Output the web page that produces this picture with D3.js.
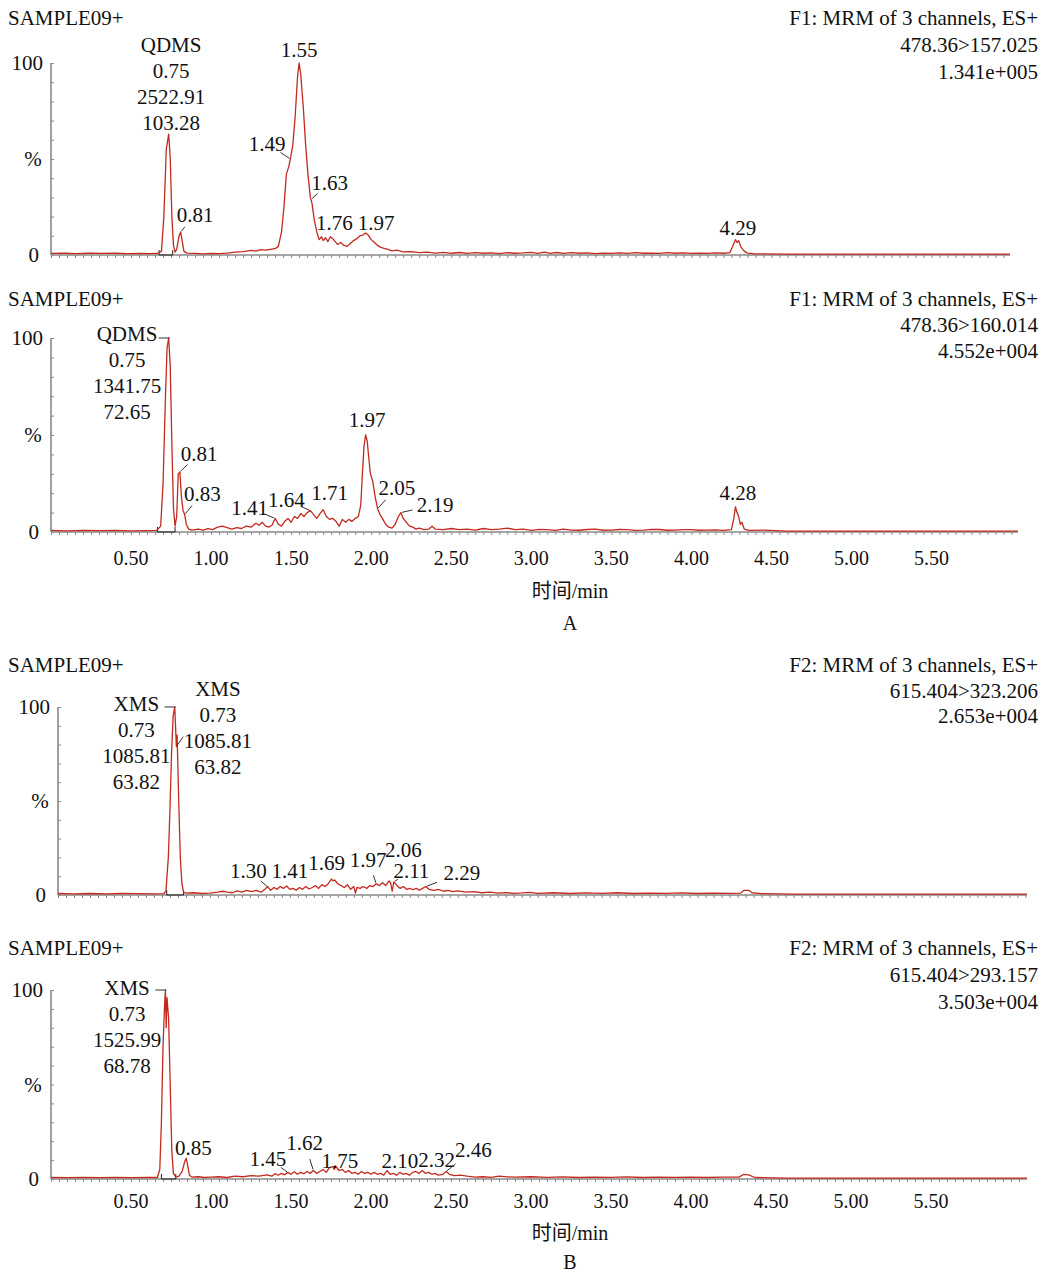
<!DOCTYPE html>
<html>
<head>
<meta charset="utf-8">
<script src="https://cdn.jsdelivr.net/npm/d3@7/dist/d3.min.js"></script>
<style>
  html, body { margin: 0; padding: 0; background: #fff; }
  svg text { font-family: "Liberation Serif", "Times New Roman", "Noto Sans CJK SC", serif; fill: #111; }
</style>
</head>
<body>
<div id="chart"></div>
<script>
// ---- data (time in min, intensity in %) ----
const traceA1 = [[0,0.8],[0.08,0.9],[0.16,0.7],[0.24,0.9],[0.32,0.8],[0.4,0.9],[0.48,0.7],[0.56,0.8],[0.62,0.7],[0.665,0.8],
  [0.69,2],[0.705,20],[0.72,55],[0.735,63],[0.745,50],[0.755,20],[0.765,5],[0.775,1.5],[0.785,3],[0.8,10],[0.81,12],[0.82,7],[0.83,2],
  [0.85,1],[0.9,0.8],[0.95,0.6],[1.0,0.8],[1.05,0.7],[1.1,1.0],[1.15,1.5],[1.2,1.8],[1.25,2.4],[1.28,2.0],[1.31,2.8],[1.34,2.5],[1.37,2.9],
  [1.4,3.3],[1.42,4.5],[1.44,12],[1.455,25],[1.47,42],[1.485,46],[1.495,50],[1.51,57],[1.525,72],[1.54,93],[1.55,100],[1.56,94],
  [1.575,78],[1.59,58],[1.605,42],[1.62,30],[1.63,27],[1.645,18],[1.66,12],[1.675,8],[1.69,9.5],[1.7,7.5],[1.715,9],[1.73,7],
  [1.745,9.5],[1.76,8.5],[1.775,7],[1.79,5.5],[1.81,6.5],[1.83,5],[1.85,4.5],[1.87,6],[1.89,7.5],[1.91,8.5],[1.93,10],[1.95,10.5],
  [1.965,11.5],[1.98,10.5],[2.0,8],[2.02,6.5],[2.04,5],[2.06,4],[2.08,3.5],[2.1,3],[2.13,2.2],[2.16,2.5],[2.2,1.6],[2.25,1.8],[2.3,1.2],
  [2.35,1.5],[2.4,1.0],[2.45,1.4],[2.5,0.9],[2.55,1.3],[2.6,0.8],[2.65,1.2],[2.7,0.9],[2.75,1.1],[2.8,0.7],[2.85,1.2],[2.9,0.9],
  [2.95,1.1],[3.0,1.4],[3.04,0.8],[3.08,1.5],[3.12,0.9],[3.16,1.3],[3.2,0.8],[3.25,1.2],[3.3,0.9],[3.35,1.1],[3.4,0.7],[3.45,1.0],
  [3.5,0.8],[3.55,1.1],[3.6,0.8],[3.65,1.2],[3.7,0.9],[3.75,1.0],[3.8,0.8],[3.85,1.2],[3.9,0.9],[3.95,1.1],[4.0,0.8],[4.05,1.0],
  [4.1,0.8],[4.15,1.1],[4.2,0.9],[4.24,1.2],[4.26,5],[4.275,8],[4.285,6.5],[4.295,7.5],[4.31,4],[4.33,2],[4.35,1],[4.4,0.6],
  [4.6,0.5],[5.0,0.5],[5.5,0.5],[5.99,0.5]];

const traceA2 = [[0,0.8],[0.1,0.6],[0.2,0.8],[0.3,0.7],[0.4,0.8],[0.5,0.6],[0.6,0.7],[0.66,0.8],[0.685,3],[0.7,25],[0.715,70],
  [0.725,95],[0.735,100],[0.745,85],[0.755,45],[0.765,12],[0.775,3],[0.785,8],[0.795,30],[0.805,31],[0.815,18],[0.825,11],[0.835,9],
  [0.845,4],[0.86,1.5],[0.88,1],[0.92,1.5],[0.95,1],[0.98,1.8],[1.01,1.2],[1.04,2.5],[1.07,3],[1.1,2.2],[1.13,1.5],[1.16,2.2],[1.19,1.8],
  [1.22,3],[1.25,2.5],[1.28,4.5],[1.3,3.5],[1.32,5],[1.34,3],[1.36,2.5],[1.38,3.5],[1.4,7],[1.42,4],[1.44,3],[1.46,5.5],[1.48,7],
  [1.5,5],[1.52,8],[1.54,7],[1.56,9.5],[1.58,8],[1.6,10],[1.62,11],[1.64,9],[1.66,7],[1.68,9.5],[1.7,11.5],[1.72,8],[1.74,6.5],
  [1.76,7],[1.78,5.5],[1.8,3],[1.82,6.5],[1.84,5],[1.86,6.5],[1.88,5.5],[1.9,7],[1.92,8],[1.935,14],[1.945,30],[1.955,44],[1.965,50],
  [1.975,47],[1.985,38],[1.995,30],[2.01,26],[2.025,18],[2.04,12],[2.055,9],[2.07,7],[2.09,4],[2.11,2.5],[2.13,2],[2.15,4],[2.17,8],
  [2.185,10],[2.2,7],[2.22,5],[2.24,3],[2.26,2.5],[2.28,1.5],[2.3,2],[2.33,1.2],[2.36,1.5],[2.38,3],[2.4,1.5],[2.45,1.2],[2.5,1.8],
  [2.55,1.2],[2.6,1.5],[2.65,1],[2.7,1.8],[2.75,1.2],[2.8,1.5],[2.85,2],[2.9,1.2],[2.95,1.5],[3.0,0.8],[3.05,1.4],[3.1,1.2],[3.15,0.8],
  [3.2,1.5],[3.25,1.0],[3.3,0.9],[3.35,1.3],[3.4,1.5],[3.45,0.9],[3.5,1.0],[3.55,1.3],[3.6,1.2],[3.65,0.8],[3.7,1.0],[3.75,1.4],
  [3.8,1.3],[3.85,0.9],[3.9,1.0],[3.95,1.2],[4.0,1.2],[4.05,0.9],[4.1,1.0],[4.15,1.1],[4.2,0.8],[4.25,1.2],[4.265,7],[4.275,13],
  [4.285,10],[4.295,8],[4.305,4],[4.315,5],[4.33,1.5],[4.36,0.8],[4.45,1.0],[4.6,0.5],[5.0,0.5],[5.5,0.5],[6.04,0.5]];

const traceB1 = [[0,0.8],[0.1,0.6],[0.2,0.8],[0.3,0.6],[0.4,0.8],[0.5,0.7],[0.6,0.6],[0.66,0.7],[0.675,2],[0.69,20],[0.7,45],
  [0.71,75],[0.72,95],[0.73,100],[0.735,90],[0.74,79],[0.745,85],[0.755,50],[0.765,20],[0.775,6],[0.785,1.5],[0.8,1],[0.85,1.2],
  [0.9,0.8],[0.95,1],[1.0,1.5],[1.03,2],[1.06,1.5],[1.09,1.2],[1.12,2.2],[1.15,1.5],[1.18,2.5],[1.21,1.8],[1.24,2.5],[1.27,1.5],
  [1.3,3.5],[1.31,4.5],[1.33,2.5],[1.35,4],[1.37,3],[1.39,4.5],[1.41,3.5],[1.43,4.8],[1.45,3],[1.47,3.5],[1.49,2.5],[1.51,4],[1.53,3],
  [1.55,4.5],[1.57,3.2],[1.59,4],[1.61,5],[1.63,3.5],[1.65,5.5],[1.67,4.5],[1.69,6],[1.71,8.5],[1.72,7.5],[1.73,8],[1.75,6],[1.77,5],
  [1.79,4],[1.81,5.5],[1.83,3],[1.85,4.5],[1.86,1],[1.87,4],[1.89,3.5],[1.91,4.5],[1.93,3.5],[1.95,5],[1.97,4.5],[1.99,6],[2.01,5],
  [2.03,6.5],[2.05,5],[2.07,7.5],[2.08,6.5],[2.09,2],[2.1,7],[2.12,5],[2.14,3.5],[2.16,4.5],[2.18,3],[2.2,3.5],[2.22,2.8],[2.24,3.5],
  [2.26,2.5],[2.28,3.5],[2.3,4.5],[2.32,3],[2.35,2.5],[2.38,3],[2.41,2],[2.44,2.5],[2.47,1.8],[2.5,2.2],[2.55,1.5],[2.6,1.8],
  [2.65,1.2],[2.7,1.5],[2.75,1.0],[2.8,1.3],[2.85,0.9],[2.9,1.1],[2.95,1.4],[3.0,0.9],[3.1,1.2],[3.2,0.8],[3.3,1.1],[3.4,0.9],
  [3.5,1.2],[3.6,0.8],[3.7,1.0],[3.8,0.9],[3.9,1.1],[4.0,0.8],[4.1,1.0],[4.2,0.9],[4.27,1.0],[4.29,2.5],[4.32,2.5],[4.34,1.2],
  [4.4,0.7],[4.6,0.5],[5.0,0.5],[5.5,0.5],[6.06,0.5]];

const traceB2 = [[0,0.8],[0.1,0.7],[0.2,0.9],[0.3,0.7],[0.4,0.8],[0.5,0.7],[0.6,0.8],[0.665,0.8],[0.68,5],[0.69,30],[0.7,70],
  [0.71,92],[0.715,100],[0.72,80],[0.725,96],[0.735,85],[0.745,50],[0.755,15],[0.765,3],[0.78,1],[0.8,1.5],[0.82,4],[0.835,9],
  [0.845,11],[0.855,7],[0.865,2],[0.88,1],[0.92,1.2],[0.96,0.8],[1.0,1],[1.05,1.2],[1.1,0.8],[1.15,1.5],[1.2,1.2],[1.25,1.8],[1.3,1.5],
  [1.35,2.2],[1.38,1.5],[1.4,2.8],[1.42,2],[1.44,3],[1.46,2.2],[1.48,3.5],[1.5,2.5],[1.52,3.8],[1.54,2.5],[1.56,3.5],[1.58,2.8],
  [1.6,4],[1.62,3],[1.64,4.5],[1.66,3],[1.68,4],[1.7,5],[1.72,3.5],[1.74,6],[1.76,6.5],[1.77,5],[1.78,6.8],[1.8,4.5],[1.82,5],
  [1.84,3.5],[1.86,4.5],[1.88,3],[1.9,3.5],[1.92,2.5],[1.94,4],[1.96,3],[1.98,3.5],[2.0,2.5],[2.02,3.5],[2.04,2.5],[2.06,3],[2.08,2],
  [2.1,4.5],[2.12,2.5],[2.14,3],[2.16,2],[2.18,3.5],[2.2,2.5],[2.22,3],[2.24,2],[2.26,3.5],[2.28,4],[2.3,3],[2.32,4.5],[2.34,3],
  [2.36,3.5],[2.38,2.5],[2.4,3],[2.42,2],[2.45,2.5],[2.47,4],[2.49,2.5],[2.52,1.8],[2.56,2],[2.6,1.5],[2.65,1.0],[2.7,1.2],[2.75,0.9],
  [2.8,1.5],[2.85,1.1],[2.9,1.0],[3.0,1.2],[3.1,0.9],[3.2,1.1],[3.3,0.8],[3.4,1.0],[3.5,0.9],[3.6,1.1],[3.7,0.8],[3.8,1.0],[3.9,0.9],
  [4.0,1.0],[4.1,0.8],[4.2,1.0],[4.3,1.0],[4.33,2.5],[4.36,2.2],[4.4,0.8],[4.6,0.5],[5.0,0.5],[5.5,0.5],[6.1,0.5]];

// peak annotations: lines of text, label centre (lt, lv), peak apex (pt, pv), leader kind
const peaksA1 = [
  { lines: ["QDMS", "0.75", "2522.91", "103.28"], lt: 0.75, lv: 109.5, pt: 0.735, pv: 63, leader: "none" },
  { lines: ["0.81"], lt: 0.90, lv: 21, pt: 0.81, pv: 12, leader: "diag" },
  { lines: ["1.49"], lt: 1.35, lv: 58, pt: 1.495, pv: 50, leader: "diag" },
  { lines: ["1.55"], lt: 1.55, lv: 107, pt: 1.55, pv: 100, leader: "none" },
  { lines: ["1.63"], lt: 1.74, lv: 37.5, pt: 1.625, pv: 29, leader: "diag" },
  { lines: ["1.76"], lt: 1.77, lv: 17, pt: 1.76, pv: 8.5, leader: "none" },
  { lines: ["1.97"], lt: 2.03, lv: 17, pt: 1.965, pv: 11.5, leader: "none" },
  { lines: ["4.29"], lt: 4.29, lv: 14.5, pt: 4.275, pv: 8, leader: "none" }
];
const peaksA2 = [
  { lines: ["QDMS", "0.75", "1341.75", "72.65"], lt: 0.475, lv: 102.5, pt: 0.735, pv: 100, leader: "h" },
  { lines: ["0.81"], lt: 0.925, lv: 40.5, pt: 0.805, pv: 31, leader: "diag" },
  { lines: ["0.83"], lt: 0.945, lv: 20, pt: 0.835, pv: 9, leader: "diag" },
  { lines: ["1.41"], lt: 1.24, lv: 12.5, pt: 1.40, pv: 7, leader: "diag" },
  { lines: ["1.64"], lt: 1.47, lv: 16.5, pt: 1.62, pv: 11, leader: "diag" },
  { lines: ["1.71"], lt: 1.74, lv: 20.5, pt: 1.70, pv: 11.5, leader: "none" },
  { lines: ["1.97"], lt: 1.975, lv: 58, pt: 1.965, pv: 50, leader: "none" },
  { lines: ["2.05"], lt: 2.16, lv: 23, pt: 2.04, pv: 12, leader: "diag" },
  { lines: ["2.19"], lt: 2.40, lv: 14, pt: 2.185, pv: 10, leader: "diag" },
  { lines: ["4.28"], lt: 4.29, lv: 20.5, pt: 4.275, pv: 13, leader: "none" }
];
const peaksB1 = [
  { lines: ["XMS", "0.73", "1085.81", "63.82"], lt: 0.49, lv: 102, pt: 0.73, pv: 100, leader: "h" },
  { lines: ["XMS", "0.73", "1085.81", "63.82"], lt: 1.0, lv: 110, pt: 0.74, pv: 79, leader: "diag" },
  { lines: ["1.30"], lt: 1.19, lv: 12.8, pt: 1.31, pv: 4.5, leader: "diag" },
  { lines: ["1.41"], lt: 1.45, lv: 12.8, pt: 1.41, pv: 3.5, leader: "none" },
  { lines: ["1.69"], lt: 1.68, lv: 17, pt: 1.71, pv: 8.5, leader: "none" },
  { lines: ["1.97"], lt: 1.94, lv: 18.6, pt: 1.99, pv: 6, leader: "diag" },
  { lines: ["2.06"], lt: 2.16, lv: 24, pt: 2.07, pv: 7.5, leader: "none" },
  { lines: ["2.11"], lt: 2.21, lv: 12.8, pt: 2.10, pv: 7, leader: "diag" },
  { lines: ["2.29"], lt: 2.525, lv: 11.7, pt: 2.30, pv: 4.5, leader: "diag" }
];
const peaksB2 = [
  { lines: ["XMS", "0.73", "1525.99", "68.78"], lt: 0.475, lv: 101.5, pt: 0.715, pv: 100, leader: "h" },
  { lines: ["0.85"], lt: 0.89, lv: 16.5, pt: 0.845, pv: 11, leader: "none" },
  { lines: ["1.45"], lt: 1.355, lv: 11, pt: 1.48, pv: 3.5, leader: "diag" },
  { lines: ["1.62"], lt: 1.585, lv: 19, pt: 1.64, pv: 4.5, leader: "diag" },
  { lines: ["1.75"], lt: 1.805, lv: 9.5, pt: 1.78, pv: 6.8, leader: "none" },
  { lines: ["2.10"], lt: 2.18, lv: 9.5, pt: 2.10, pv: 4.5, leader: "none" },
  { lines: ["2.32"], lt: 2.41, lv: 10, pt: 2.32, pv: 4.5, leader: "none" },
  { lines: ["2.46"], lt: 2.64, lv: 15.5, pt: 2.47, pv: 4, leader: "diag" }
];

const headerA1 = ["F1: MRM of 3 channels, ES+", "478.36>157.025", "1.341e+005"];
const headerA2 = ["F1: MRM of 3 channels, ES+", "478.36>160.014", "4.552e+004"];
const headerB1 = ["F2: MRM of 3 channels, ES+", "615.404>323.206", "2.653e+004"];
const headerB2 = ["F2: MRM of 3 channels, ES+", "615.404>293.157", "3.503e+004"];

// integration window [start, end] of the labelled main peak
const bracketA1 = [0.675, 0.76];
const bracketA2 = [0.665, 0.775];
const bracketB1 = [0.68, 0.785];
const bracketB2 = [0.69, 0.78];

const xDomainMax = [5.99, 6.04, 6.06, 6.10];
const xTicks = [0.5, 1.0, 1.5, 2.0, 2.5, 3.0, 3.5, 4.0, 4.5, 5.0, 5.5];
const xTitle = "时间/min";
const sampleName = "SAMPLE09+";

// ---- layout ----
const W = 1042, H = 1275;
const RED = "#c22a1e", AXIS = "#8a8a8a";
const FS = 21;

const panels = [
  { trace: traceA1, peaks: peaksA1, header: headerA1, bracket: bracketA1, dmax: xDomainMax[0], left: 51, right: 1010, y0: 255, y100: 63, headY: 18, headStep: 27 },
  { trace: traceA2, peaks: peaksA2, header: headerA2, bracket: bracketA2, dmax: xDomainMax[1], left: 51, right: 1018, y0: 532, y100: 338, headY: 299, headStep: 26 },
  { trace: traceB1, peaks: peaksB1, header: headerB1, bracket: bracketB1, dmax: xDomainMax[2], left: 58, right: 1027, y0: 895, y100: 707, headY: 665, headStep: 25.5 },
  { trace: traceB2, peaks: peaksB2, header: headerB2, bracket: bracketB2, dmax: xDomainMax[3], left: 51, right: 1027, y0: 1179, y100: 990, headY: 948, headStep: 27 }
];

const svg = d3.select("#chart").append("svg")
  .attr("width", W).attr("height", H)
  .attr("viewBox", `0 0 ${W} ${H}`);

panels.forEach(p => {
  const x = d3.scaleLinear().domain([0, p.dmax]).range([p.left, p.right]);
  const y = d3.scaleLinear().domain([0, 100]).range([p.y0, p.y100]);
  p.x = x; p.y = y;
  const g = svg.append("g");

  // headers
  g.append("text").attr("x", 8).attr("y", p.headY).attr("dy", "0.35em")
    .style("font-size", FS + "px").text(sampleName);
  p.header.forEach((s, i) => {
    g.append("text").attr("x", 1038).attr("y", p.headY + i * p.headStep).attr("dy", "0.35em")
      .attr("text-anchor", "end").style("font-size", FS + "px").text(s);
  });

  // y axis labels
  g.append("text").attr("x", p.left - 8).attr("y", y(100)).attr("dy", "0.35em")
    .attr("text-anchor", "end").style("font-size", FS + "px").text("100");
  g.append("text").attr("x", p.left - 12).attr("y", y(0)).attr("dy", "0.35em")
    .attr("text-anchor", "end").style("font-size", FS + "px").text("0");
  g.append("text").attr("x", p.left - 18).attr("y", y(50)).attr("dy", "0.35em")
    .attr("text-anchor", "middle").style("font-size", FS + "px").text("%");

  // y axis with short inward ticks
  const yAxis = d3.axisRight(y).tickValues(d3.range(0, 101, 10)).tickSize(3).tickFormat("");
  const ya = g.append("g").attr("transform", `translate(${p.left},0)`).call(yAxis);
  ya.select(".domain").attr("stroke", AXIS).attr("stroke-width", 1.6).attr("d", `M0,${y(0)}V${y(100)}`);
  ya.selectAll(".tick line").attr("stroke", AXIS);

  // x axis with minor ticks
  const xAxis = d3.axisBottom(x).tickValues(d3.range(0, p.dmax, 0.05)).tickSize(3).tickFormat("");
  const xa = g.append("g").attr("transform", `translate(0,${y(0)})`).call(xAxis);
  xa.select(".domain").attr("stroke", AXIS).attr("stroke-width", 1.6).attr("d", `M${p.left},0H${p.right}`);
  xa.selectAll(".tick line").attr("stroke", AXIS);

  // integration bracket
  const [b0, b1] = p.bracket;
  g.append("path")
    .attr("d", `M${x(b0)},${y(0) - 5}V${y(0)}H${x(b1)}V${y(0) - 5}`)
    .attr("fill", "none").attr("stroke", "#222").attr("stroke-width", 1);

  // trace
  const line = d3.line().x(d => x(d[0])).y(d => y(d[1]));
  g.append("path").datum(p.trace)
    .attr("d", line)
    .attr("fill", "none").attr("stroke", RED).attr("stroke-width", 1.3)
    .attr("stroke-linejoin", "round");

  // peak labels
  const lineH = 26;
  p.peaks.forEach(pk => {
    const lx = x(pk.lt), ly = y(pk.lv);
    pk.lines.forEach((s, i) => {
      g.append("text").attr("x", lx).attr("y", ly + i * lineH).attr("dy", "0.35em")
        .attr("text-anchor", "middle").style("font-size", FS + "px").text(s);
    });
    const px = x(pk.pt), py = y(pk.pv);
    if (pk.leader === "h") {
      g.append("line").attr("x1", px - 10).attr("x2", px + 1).attr("y1", py).attr("y2", py)
        .attr("stroke", "#333").attr("stroke-width", 1);
    } else if (pk.leader === "diag") {
      const dx = lx - px, dy = ly - py;
      const len = Math.hypot(dx, dy);
      const ux = dx / len, uy = dy / len;
      const reach = Math.max(4, Math.min(12, len - 16));
      g.append("line").attr("x1", px + ux).attr("y1", py + uy)
        .attr("x2", px + ux * reach).attr("y2", py + uy * reach)
        .attr("stroke", "#333").attr("stroke-width", 1);
    }
  });
});

// x tick labels + titles under each block
function bottom(p, tickY, titleY, tag, tagY) {
  xTicks.forEach(t => {
    svg.append("text").attr("x", p.x(t)).attr("y", tickY).attr("dy", "0.35em")
      .attr("text-anchor", "middle").style("font-size", (FS - 1) + "px").text(t.toFixed(2));
  });
  svg.append("text").attr("x", 570).attr("y", titleY).attr("dy", "0.35em")
    .attr("text-anchor", "middle").style("font-size", (FS - 1) + "px").text(xTitle);
  svg.append("text").attr("x", 570).attr("y", tagY).attr("dy", "0.35em")
    .attr("text-anchor", "middle").style("font-size", (FS - 1) + "px").text(tag);
}
bottom(panels[1], 558, 591, "A", 623);
bottom(panels[3], 1201, 1233, "B", 1262);
</script>
</body>
</html>
